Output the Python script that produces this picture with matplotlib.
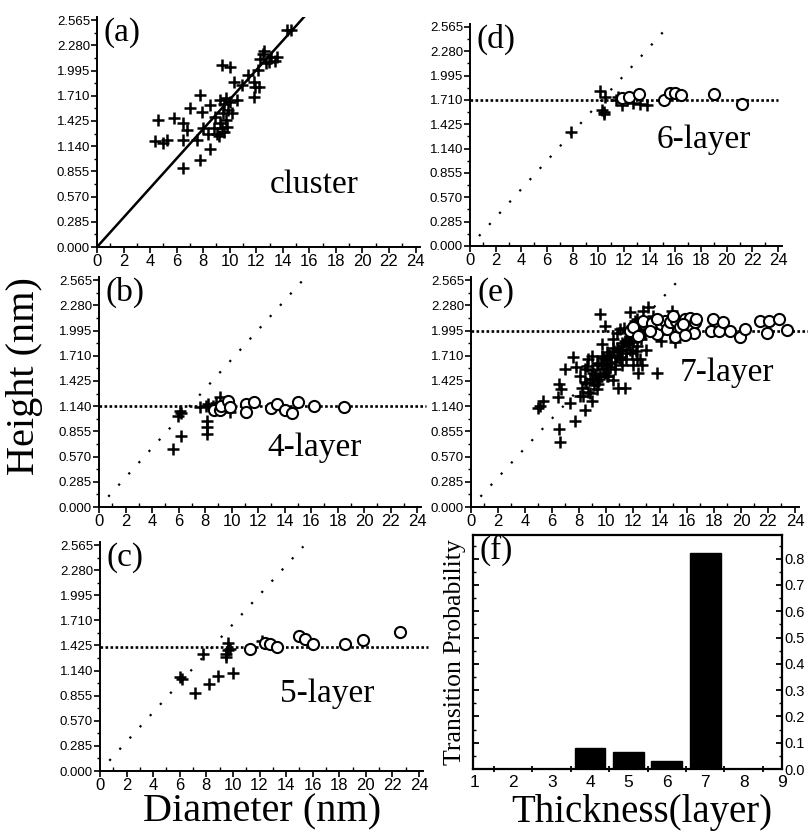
import numpy as np
import matplotlib
matplotlib.use("Agg")
import matplotlib.pyplot as plt
from matplotlib.ticker import MultipleLocator, FixedLocator

# ---- data ----
# (a) cluster
a_d = [4.63, 4.38, 5.0, 5.26, 5.77, 6.47, 6.5, 6.78, 6.47, 7.78, 7.0, 7.53, 7.78, 7.9, 8.0,
       8.5, 8.5, 8.9, 8.8, 9.2, 9.3, 9.4, 10.05, 9.5, 9.8, 9.7, 10.2, 10.3, 10.05, 10.55,
       10.9, 11.4, 11.8, 11.9, 11.8, 12.2, 12.3, 12.6, 12.7, 12.1, 13.1, 13.6, 14.3, 14.6,
       9.04, 9.3, 8.4, 9.55, 9.9, 12.95, 9.6, 9.4, 9.7, 12.5, 13.4]
a_h = [1.44, 1.20, 1.18, 1.21, 1.46, 1.40, 1.21, 1.32, 0.89, 1.72, 1.57, 1.21, 0.98, 1.53, 1.34,
       1.61, 1.11, 1.47, 1.34, 1.26, 1.66, 2.06, 2.04, 1.51, 1.36, 1.43, 1.51, 1.87, 1.64, 1.66,
       1.83, 1.94, 1.87, 1.81, 1.70, 1.81, 2.13, 2.21, 2.08, 2.00, 2.15, 2.15, 2.45, 2.45,
       1.28, 1.40, 1.28, 1.30, 1.55, 2.09, 1.62, 1.35, 1.68, 2.18, 2.10]

# (b) 4-layer
b_cross_d = [5.58, 6.2, 6.08, 6.2, 5.95, 7.6, 8.1, 8.14, 8.14, 8.14, 8.2, 8.6, 9.1, 9.85, 8.85]
b_cross_h = [0.65, 0.80, 1.08, 1.06, 1.03, 1.13, 1.14, 0.97, 0.90, 0.82, 1.16, 1.14, 1.24, 1.07, 1.18]
b_circ_d = [8.7, 9.1, 9.2, 9.7, 9.85, 11.1, 11.1, 11.7, 13.0, 13.4, 14.0, 14.6, 15.0, 16.25, 18.5]
b_circ_h = [1.10, 1.10, 1.14, 1.20, 1.13, 1.16, 1.07, 1.19, 1.12, 1.16, 1.10, 1.06, 1.19, 1.14, 1.13]

# (c) 5-layer
c_cross_d = [6.0, 6.15, 7.14, 7.77, 8.2, 8.9, 10.0, 9.5, 9.65, 9.77, 9.5, 9.65, 12.15]
c_cross_h = [1.07, 1.05, 0.89, 1.33, 0.99, 1.08, 1.11, 1.33, 1.45, 1.39, 1.30, 1.37, 1.48]
c_circ_d = [11.3, 12.4, 12.8, 13.3, 15.0, 15.4, 16.0, 18.4, 19.8, 22.6]
c_circ_h = [1.39, 1.45, 1.44, 1.41, 1.53, 1.50, 1.44, 1.44, 1.49, 1.58]

# (d) 6-layer
d_cross_d = [7.9, 10.1, 10.25, 10.4, 10.5, 11.4, 11.55, 11.8, 12.2, 12.7, 13.25, 13.8, 10.4]
d_cross_h = [1.34, 1.82, 1.59, 1.55, 1.75, 1.71, 1.75, 1.65, 1.71, 1.67, 1.66, 1.65, 1.57]
d_circ_d = [11.8, 12.35, 13.2, 15.1, 15.6, 16.0, 16.4, 19.0, 21.2]
d_circ_h = [1.73, 1.74, 1.78, 1.71, 1.79, 1.79, 1.77, 1.78, 1.66]

# (e) 7-layer
e_cross_d = [4.99, 5.1, 5.36, 6.54, 6.6, 6.54, 6.7, 6.47, 7.33, 6.96, 7.58, 7.7, 8.44, 7.8, 8.1,
             8.2, 8.44, 8.57, 8.8, 8.94, 9.06, 9.3, 9.43, 9.56, 9.7, 9.8, 9.93, 10.05, 10.17,
             10.3, 10.54, 10.67, 10.8, 10.9, 11.04, 11.16, 11.28, 11.4, 11.5, 11.78, 11.78,
             11.9, 12.0, 12.15, 12.27, 12.4, 12.5, 12.77, 12.9, 13.0, 13.1, 13.26, 13.75, 13.9,
             14.1, 14.9, 15.1, 8.44, 8.94, 9.56, 10.8, 8.7, 9.3, 10.05, 11.16, 12.0, 12.5, 13.5,
             10.54, 9.7, 11.04, 11.78, 12.27, 12.65, 8.1,
             8.5, 8.8, 9.0, 9.2, 9.4, 9.6, 9.8, 10.0, 10.2, 10.4, 10.6, 10.8, 11.0, 11.2, 11.4,
             11.6, 11.8, 12.0, 9.1, 9.5, 9.9, 10.3, 10.7, 11.1, 11.5, 8.3, 8.7, 9.3, 10.1, 12.2,
             12.4, 11.9, 12.3, 12.6, 9.0, 10.5, 11.3]
e_cross_h = [1.12, 1.14, 1.20, 0.88, 0.73, 1.39, 1.33, 1.24, 1.18, 1.56, 1.69, 0.97, 1.10, 1.58, 1.48,
             1.35, 1.41, 1.59, 1.29, 1.71, 1.52, 1.63, 1.39, 2.18, 1.84, 1.56, 2.05, 1.75, 1.48,
             1.63, 1.80, 1.56, 1.71, 1.35, 2.01, 1.60, 1.82, 1.35, 1.67, 2.20, 1.90,
             1.74, 1.60, 2.10, 1.82, 1.52, 1.67, 2.22, 1.96, 1.78, 2.26, 2.08, 1.52, 1.96,
             1.88, 2.22, 1.86, 1.56, 1.45, 1.48, 1.97, 1.67, 1.33, 1.60, 1.78, 1.94, 2.01, 2.16,
             1.44, 1.71, 1.67, 1.78, 1.67, 1.60, 1.25,
             1.40, 1.45, 1.55, 1.50, 1.60, 1.62, 1.68, 1.66, 1.72, 1.70, 1.76, 1.80, 1.78, 1.85, 1.88,
             1.84, 1.92, 1.86, 1.38, 1.45, 1.52, 1.58, 1.64, 1.70, 1.74, 1.25, 1.30, 1.42, 1.48, 1.76,
             1.95, 2.05, 2.12, 1.90, 1.20, 1.90, 2.02]
e_circ_d = [11.78, 12.0, 12.4, 12.77, 13.4, 13.75, 14.1, 14.4, 14.5, 14.74, 15.1, 15.2, 15.5,
            15.85, 16.0, 16.2, 16.35, 16.5, 16.6, 16.7, 17.8, 17.9, 18.4, 18.7, 19.2, 19.9,
            20.3, 21.4, 21.9, 22.1, 22.8, 23.4, 13.26, 13.75, 15.0, 15.85, 15.7]
e_circ_h = [1.99, 2.03, 1.93, 2.10, 2.08, 1.95, 2.07, 2.10, 2.01, 2.09, 1.92, 2.10, 2.03,
            2.12, 2.01, 2.14, 2.03, 1.97, 2.09, 2.12, 1.99, 2.12, 1.99, 2.09, 1.99, 1.92,
            2.01, 2.10, 1.97, 2.10, 2.12, 2.00, 1.99, 2.12, 2.16, 1.94, 2.07]

# (f) transition probability
layers = [4, 5, 6, 7]
prob = [0.080, 0.064, 0.031, 0.820]

plateau = {"b": 1.14, "c": 1.41, "d": 1.71, "e": 1.99}
labels = {"a": "cluster", "b": "4-layer", "c": "5-layer", "d": "6-layer", "e": "7-layer"}
label_pos = {"a": (16.4, 0.70), "b": (16.3, 0.67), "c": (17.1, 0.88), "d": (18.2, 1.25), "e": (19.0, 1.52)}

W, H = 808, 838
SERIF = "Liberation Serif"
SANS = "Liberation Sans"


def px_axes(fig, l, r, t, b):
    return fig.add_axes([l / W, 1 - b / H, (r - l) / W, (b - t) / H])


def style_scatter(ax):
    ax.set_xlim(0, 24.3)
    ax.set_ylim(0, 2.6)
    for s in ["top", "right"]:
        ax.spines[s].set_visible(False)
    for s in ["left", "bottom"]:
        ax.spines[s].set_linewidth(1.4)
    ax.xaxis.set_major_locator(MultipleLocator(2))
    ax.xaxis.set_minor_locator(MultipleLocator(1))
    ax.yaxis.set_major_locator(FixedLocator(np.arange(0, 2.6, 0.285)))
    ax.yaxis.set_minor_locator(FixedLocator(np.arange(0.1425, 2.6, 0.285)))
    ax.set_yticklabels(["%.3f" % v for v in np.arange(0, 2.6, 0.285)])
    ax.tick_params(axis="x", which="major", direction="out", length=4, width=1.2,
                   labelsize=12, pad=1)
    ax.tick_params(axis="x", which="minor", direction="in", length=3, width=1.0)
    ax.tick_params(axis="y", which="major", direction="out", length=4, width=1.2,
                   labelsize=9.5, pad=1)
    ax.tick_params(axis="y", which="minor", direction="out", length=2.5, width=1.0)
    for lab in ax.get_xticklabels() + ax.get_yticklabels():
        lab.set_fontfamily(SANS)


def add_diag(ax):
    x = np.array([0.7, 15.3])
    ax.plot(x, x / 6, color="black", lw=1.6, ls=(0, (1, 5.8)), zorder=1)


def add_plateau(ax, h, xmax=24.7):
    ax.plot([0, xmax], [h, h], color="black", lw=1.9, ls=(0, (1, 0.9)),
            clip_on=False, zorder=1)


def add_points(ax, cd, ch, od=None, oh=None):
    ax.plot(cd, ch, ls="none", marker="+", ms=9, mew=1.8, color="black", zorder=3)
    if od is not None:
        ax.plot(od, oh, ls="none", marker="o", ms=8, mew=1.5, mfc="white",
                mec="black", zorder=4)


def panel_text(ax, key):
    ax.text(0.02, 1.0, "(%s)" % key, transform=ax.transAxes, ha="left", va="top",
            fontsize=24, family=SERIF)
    x, y = label_pos[key]
    ax.text(x, y, labels[key], ha="center", va="center", fontsize=24, family=SERIF)


fig = plt.figure(figsize=(W / 100, H / 100), dpi=100)

ax_a = px_axes(fig, 97, 419.5, 17, 247)
ax_b = px_axes(fig, 99, 421, 277, 507)
ax_c = px_axes(fig, 100, 423, 542, 771)
ax_d = px_axes(fig, 470, 782, 24, 246)
ax_e = px_axes(fig, 471, 799, 277, 507)
ax_f = px_axes(fig, 473, 782, 535, 769)

for ax in [ax_a, ax_b, ax_c, ax_d, ax_e]:
    style_scatter(ax)

# (a)
xa = np.array([0, 15.6])
ax_a.plot(xa, xa / 6, color="black", lw=1.8, zorder=2)
add_points(ax_a, a_d, a_h)
panel_text(ax_a, "a")

# (b)
add_diag(ax_b)
add_plateau(ax_b, plateau["b"])
add_points(ax_b, b_cross_d, b_cross_h, b_circ_d, b_circ_h)
panel_text(ax_b, "b")

# (c)
add_diag(ax_c)
add_plateau(ax_c, plateau["c"])
add_points(ax_c, c_cross_d, c_cross_h, c_circ_d, c_circ_h)
panel_text(ax_c, "c")

# (d)
add_diag(ax_d)
add_plateau(ax_d, plateau["d"], 24.0)
add_points(ax_d, d_cross_d, d_cross_h, d_circ_d, d_circ_h)
panel_text(ax_d, "d")

# (e)
add_diag(ax_e)
add_plateau(ax_e, plateau["e"], 25.0)
add_points(ax_e, e_cross_d, e_cross_h, e_circ_d, e_circ_h)
panel_text(ax_e, "e")

# (f)
ax_f.bar(layers, prob, width=0.8, color="black", edgecolor="black")
ax_f.set_xlim(0.95, 8.98)
ax_f.set_ylim(0, 0.89)
for s in ax_f.spines.values():
    s.set_linewidth(1.6)
ax_f.set_xticks(range(1, 10))
ax_f.set_xticklabels([str(i) for i in range(1, 10)])
ax_f.xaxis.set_minor_locator(FixedLocator(np.arange(1.5, 9, 1)))
ax_f.tick_params(axis="x", which="major", length=0, labelsize=12.5, pad=4)
ax_f.tick_params(axis="x", which="minor", direction="inout", length=5, width=1.3)
ax_f.yaxis.set_major_locator(MultipleLocator(0.1))
ax_f.yaxis.set_minor_locator(MultipleLocator(0.05))
ax_f.yaxis.set_major_formatter(plt.FormatStrFormatter("%.1f"))
ax_f.tick_params(axis="y", which="both", direction="in", left=True, right=True,
                 labelleft=False, labelright=True, labelsize=10.5, pad=2)
ax_f.tick_params(axis="y", which="major", length=4, width=1.3)
ax_f.tick_params(axis="y", which="minor", length=2, width=1.0)
for lab in ax_f.get_xticklabels() + ax_f.get_yticklabels():
    lab.set_fontfamily(SANS)
ax_f.text(0.02, 1.0, "(f)", transform=ax_f.transAxes, ha="left", va="top",
          fontsize=24, family=SERIF)

# axis titles
fig.text(25 / W, 1 - 376 / H, "Height (nm)", rotation=90, ha="center", va="center",
         fontsize=29, family=SERIF)
fig.text(262 / W, 1 - 812 / H, "Diameter (nm)", ha="center", va="center",
         fontsize=29, family=SERIF)
fig.text(642 / W, 1 - 812 / H, "Thickness(layer)", ha="center", va="center",
         fontsize=28, family=SERIF)
fig.text(455 / W, 1 - 652 / H, "Transition Probability", rotation=90, ha="center",
         va="center", fontsize=18.5, family=SERIF)

fig.savefig("out.png", dpi=100)
